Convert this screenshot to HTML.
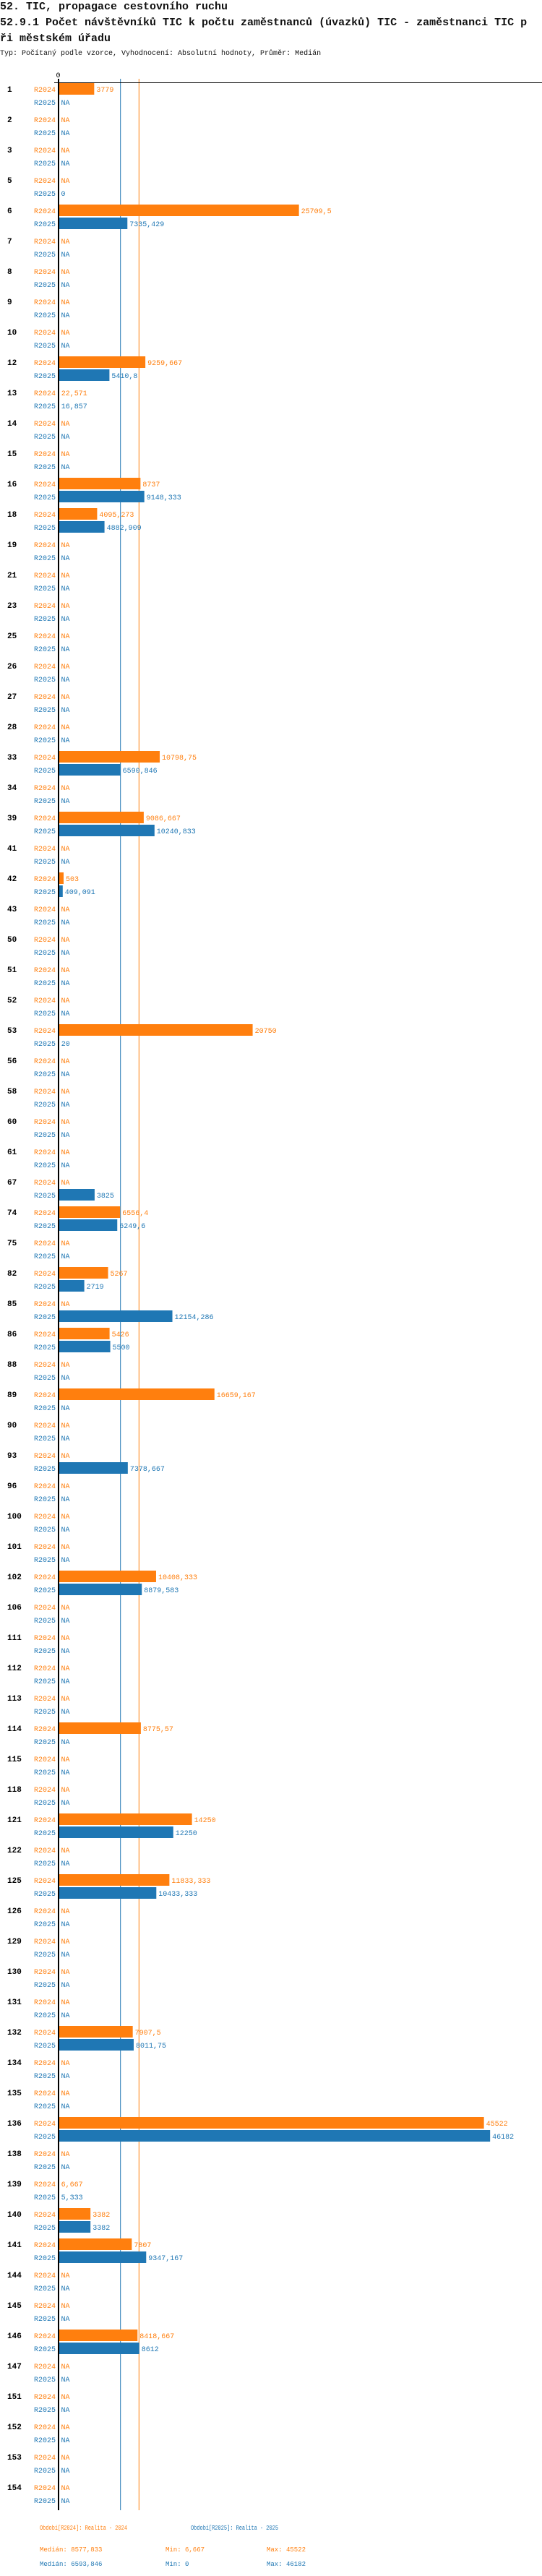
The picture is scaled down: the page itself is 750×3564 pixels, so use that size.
<!DOCTYPE html>
<html><head><meta charset="utf-8"><style>
body{margin:0;background:#fff;}
svg{display:block;font-family:"Liberation Mono",monospace;}
</style></head><body>
<svg id="chart" width="750" height="3564" viewBox="0 0 750 3564" xmlns="http://www.w3.org/2000/svg">
<text x="0" y="13" font-size="15" font-weight="bold" fill="#111">52. TIC, propagace cestovního ruchu</text>
<text x="0" y="35" font-size="15" font-weight="bold" fill="#111">52.9.1 Počet návštěvníků TIC k počtu zaměstnanců (úvazků) TIC - zaměstnanci TIC p</text>
<text x="0" y="57" font-size="15" font-weight="bold" fill="#111">ři městském úřadu</text>
<text x="0" y="76" font-size="10" fill="#111">Typ: Počítaný podle vzorce, Vyhodnocení: Absolutní hodnoty, Průměr: Medián</text>
<g id="plot"></g>
</svg>
<script>
const categories=["1","2","3","5","6","7","8","9","10","12","13","14","15","16","18","19","21","23","25","26","27","28","33","34","39","41","42","43","50","51","52","53","56","58","60","61","67","74","75","82","85","86","88","89","90","93","96","100","101","102","106","111","112","113","114","115","118","121","122","125","126","129","130","131","132","134","135","136","138","139","140","141","144","145","146","147","151","152","153","154"];
const values2024=[3779,null,null,null,25709.5,null,null,null,null,9259.667,22.571,null,null,8737,4095.273,null,null,null,null,null,null,null,10798.75,null,9086.667,null,503,null,null,null,null,20750,null,null,null,null,null,6556.4,null,5267,null,5426,null,16659.167,null,null,null,null,null,10408.333,null,null,null,null,8775.57,null,null,14250,null,11833.333,null,null,null,null,7907.5,null,null,45522,null,6.667,3382,7807,null,null,8418.667,null,null,null,null,null];
const values2025=[null,null,null,0,7335.429,null,null,null,null,5410.8,16.857,null,null,9148.333,4882.909,null,null,null,null,null,null,null,6590.846,null,10240.833,null,409.091,null,null,null,null,20,null,null,null,null,3825,6249.6,null,2719,12154.286,5500,null,null,null,7378.667,null,null,null,8879.583,null,null,null,null,null,null,null,12250,null,10433.333,null,null,null,null,8011.75,null,null,46182,null,5.333,3382,9347.167,null,null,8612,null,null,null,null,null];
const seriesNames=["R2024","R2025"];
const medians=[8577.833,6593.846];
const mins=["6,667","0"];
const maxs=["45522","46182"];
const legendTitles=["Období[R2024]: Realita - 2024","Období[R2025]: Realita - 2025"];

const colors=["#ff7f0e","#1f77b4"];
const NS="http://www.w3.org/2000/svg";
const plot=document.getElementById('plot');
const x0=81.5, k=0.01292;
const xs=v=>x0+v*k;
const y0=123, gap=42;
const ys=i=>y0+i*gap;
function mk(tag,attrs,txt){const e=document.createElementNS(NS,tag);for(const a in attrs)e.setAttribute(a,attrs[a]);if(txt!==undefined)e.textContent=txt;plot.appendChild(e);return e;}
const fmt=v=>String(v).replace('.',',');
const yEnd=ys(categories.length-1)+18+14;

// median lines
medians.forEach((m,s)=>{
  const l=mk('line',{x1:xs(m),x2:xs(m),y1:109,y2:yEnd,stroke:colors[s],'stroke-width':1});
  
  
});

categories.forEach((c,i)=>{
  const yc=ys(i);
  const t=mk('text',{x:10,y:yc+4,'font-size':11,'font-weight':'bold',fill:'#000'},c);
  
  
  [values2024,values2025].forEach((arr,s)=>{
    const yy=yc+s*18;
    const sl=mk('text',{x:77,y:yy+4,'font-size':10,'text-anchor':'end',fill:colors[s]},seriesNames[s]);
    
    
    const v=arr[i];
    let tx=x0+3, lbl='NA';
    if(v!==null){
      const w=xs(v)-x0;
      if(w>0){
        const r=mk('rect',{x:x0,y:yy-8,width:w,height:16,fill:colors[s]});
        
        
      }
      tx=xs(v)+3; lbl=fmt(v);
    }
    const vt=mk('text',{x:tx,y:yy+4,'font-size':10,fill:colors[s]},lbl);
    
    
  });
});

// axes
const ax=mk('line',{x1:x0-0.5,x2:x0-0.5,y1:109,y2:yEnd,stroke:'#000','stroke-width':2});


const tx=mk('line',{x1:75,x2:750,y1:114.5,y2:114.5,stroke:'#000','stroke-width':1});


const z=mk('text',{x:x0-1,y:107,'font-size':10,'text-anchor':'middle',fill:'#000'},'0');



// footer legend
const lx=[55,264];
legendTitles.forEach((t,s)=>{
  const e=mk('text',{x:lx[s],y:3500,'font-size':9,fill:colors[s],textLength:121,lengthAdjust:'spacingAndGlyphs'},t);
  
  
  const fy=3530+s*20;
  const a=mk('text',{x:55,y:fy,'font-size':9,fill:colors[s]},'Medián: '+fmt(medians[s]));
  
  
  const b=mk('text',{x:229,y:fy,'font-size':9,fill:colors[s]},'Min: '+mins[s]);
  
  
  const d=mk('text',{x:369,y:fy,'font-size':9,fill:colors[s]},'Max: '+maxs[s]);
  
  
});
</script>
</body></html>
